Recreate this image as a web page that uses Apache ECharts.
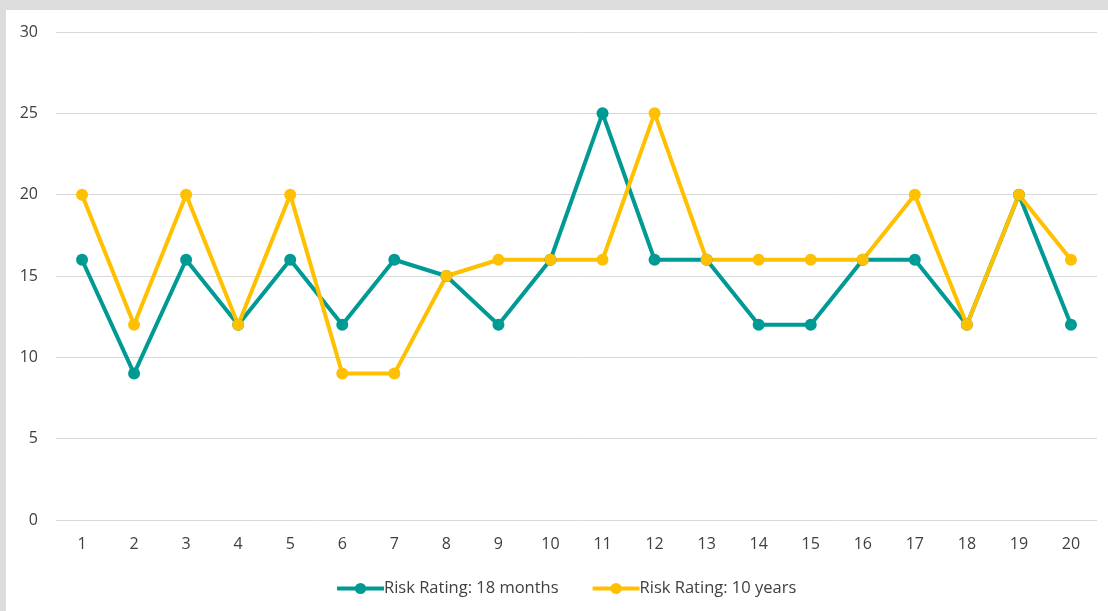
<!DOCTYPE html>
<html>
<head>
<meta charset="utf-8">
<script src="https://cdn.jsdelivr.net/npm/echarts@6/dist/echarts.min.js"></script>
<style>
  html, body { margin:0; padding:0; width:1108px; height:611px; background:#dcdcdc; overflow:hidden; }
  #chart { position:absolute; left:6px; top:10px; width:1102px; height:601px; background:#fff; }
</style>
</head>
<body>
<div id="chart"></div>
<script>
// 数据
var categories = ['1','2','3','4','5','6','7','8','9','10','11','12','13','14','15','16','17','18','19','20'];
var months18 = [16, 9, 16, 12, 16, 12, 16, 15, 12, 16, 25, 16, 16, 12, 12, 16, 16, 12, 20, 12];
var years10 = [20, 12, 20, 12, 20, 9, 9, 15, 16, 16, 16, 25, 16, 16, 16, 16, 20, 12, 20, 16];
var seriesNames = ['Risk Rating: 18 months', 'Risk Rating: 10 years'];
var colors = ['#009a94', '#ffc000'];

var myChart = echarts.init(document.getElementById('chart'));
var font = '"Open Sans", "Noto Sans", sans-serif';

function lineSeries(name, data, color) {
  return {
    name: name,
    type: 'line',
    data: data,
    symbol: 'circle',
    symbolSize: 12,
    lineStyle: { width: 4, color: color },
    itemStyle: { color: color },
    animation: false
  };
}

myChart.setOption({
  color: colors,
  textStyle: { fontFamily: font },
  grid: { left: 50, right: 11, top: 22, bottom: 91 },
  legend: {
    bottom: 9,
    left: 324,
    itemWidth: 47,
    itemHeight: 14,
    itemGap: 32,
    itemStyle: { borderWidth: 0 },
    lineStyle: { width: 4 },
    textStyle: { fontSize: 16.5, color: '#404040', fontFamily: font, padding: [0, 0, 0, -5] },
    data: seriesNames
  },
  xAxis: {
    type: 'category',
    data: categories,
    boundaryGap: true,
    axisLine: { show: false },
    axisTick: { show: false },
    axisLabel: { fontSize: 16, color: '#404040', margin: 16 }
  },
  yAxis: {
    type: 'value',
    min: 0,
    max: 30,
    interval: 5,
    axisLine: { show: false },
    axisTick: { show: false },
    axisLabel: { fontSize: 16, color: '#404040', margin: 18 },
    splitLine: { lineStyle: { color: '#d9d9d9', width: 1 } }
  },
  series: [
    lineSeries(seriesNames[0], months18, colors[0]),
    lineSeries(seriesNames[1], years10, colors[1])
  ]
});
</script>
</body>
</html>
